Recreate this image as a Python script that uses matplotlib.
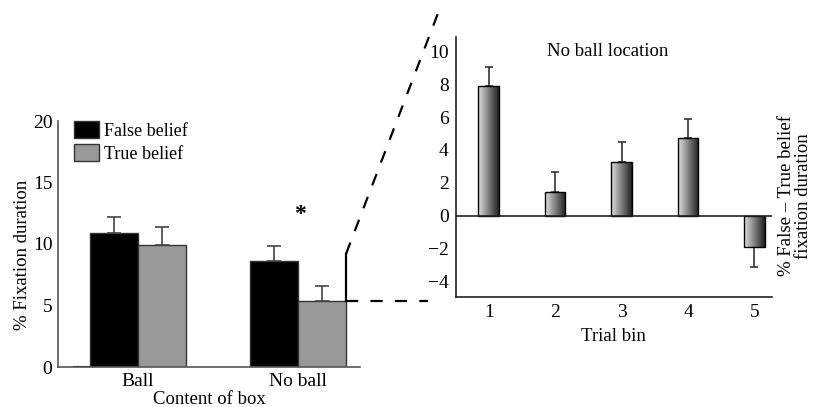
import numpy as np
import matplotlib
matplotlib.use("Agg")
import matplotlib.pyplot as plt
from matplotlib.lines import Line2D

plt.rcParams['font.family'] = ['Liberation Serif', 'DejaVu Serif']
plt.rcParams['font.size'] = 13

# left panel data
groups = ["Ball", "No ball"]
false_vals = [10.9, 8.65]
false_err = [1.3, 1.15]
true_vals = [9.95, 5.37]
true_err = [1.4, 1.25]

# right panel data
bins = [1, 2, 3, 4, 5]
diff_vals = [7.87, 1.46, 3.29, 4.72, -1.95]
diff_err = [1.18, 1.22, 1.18, 1.19, 1.2]

fig = plt.figure(figsize=(8.14, 4.07), dpi=100)

# ---- left chart
ax1 = fig.add_axes([58/814, 40/407, 302/814, 246/407])
x = np.arange(len(groups))
w = 0.3
ax1.bar(x - w/2, false_vals, w, color="black", edgecolor="#333333", lw=1,
        label="False belief")
ax1.bar(x + w/2, true_vals, w, color="#999999", edgecolor="#333333", lw=1,
        label="True belief")
ax1.errorbar(x - w/2, false_vals, yerr=[[0]*2, false_err], fmt="none",
             ecolor="#444444", elinewidth=1.2, capsize=5, capthick=1.2)
ax1.errorbar(x + w/2, true_vals, yerr=[[0]*2, true_err], fmt="none",
             ecolor="#444444", elinewidth=1.2, capsize=5, capthick=1.2)
ax1.plot([-0.4, -0.1], [0, 0], color="black", lw=1.5)
ax1.text(1.01, 12.4, "*", ha="center", va="center", fontsize=17, fontweight="bold")

ax1.set_xlim(-0.5, 1.3875)
ax1.set_ylim(0, 20)
ax1.set_yticks([0, 5, 10, 15, 20])
ax1.set_xticks(x)
ax1.set_xticklabels(groups)
ax1.tick_params(length=0, labelsize=14, pad=4)
for s in ["top", "right"]:
    ax1.spines[s].set_visible(False)
for s in ["left", "bottom"]:
    ax1.spines[s].set_color("#555555")
    ax1.spines[s].set_linewidth(1.2)
ax1.set_xlabel("Content of box", fontsize=13.5, labelpad=1)
ax1.set_ylabel("% Fixation duration", fontsize=13.5)
ax1.yaxis.set_label_coords(-0.09, 0.455)
leg = ax1.legend(loc="upper left", bbox_to_anchor=(0.03, 1.03), frameon=False,
                 fontsize=13, handlelength=1.35, handleheight=1.1,
                 handletextpad=0.3, labelspacing=0.25, borderaxespad=0)

# ---- right chart
ax2 = fig.add_axes([455.7/814, 110.3/407, 316/814, 260/407])
bw = 0.31
grad = np.linspace(0.88, 0.12, 256).reshape(1, -1)
bars = ax2.bar(bins, diff_vals, bw, color="none", edgecolor="black", lw=1, zorder=3)
for b in bars:
    bx, by = b.get_x(), b.get_y()
    bh = b.get_height()
    im = ax2.imshow(grad, cmap="gray", vmin=0, vmax=1, aspect="auto",
                    extent=[bx, bx + b.get_width(), by, by + bh], zorder=2)
    im.set_clip_path(b)
ax2.set_xlim(0.503, 5.26)
ax2.set_ylim(-4.95, 10.9)
up = [e if v >= 0 else 0 for v, e in zip(diff_vals, diff_err)]
dn = [e if v < 0 else 0 for v, e in zip(diff_vals, diff_err)]
ax2.errorbar(bins, diff_vals, yerr=[dn, up], fmt="none", ecolor="#333333",
             elinewidth=1.2, capsize=3, capthick=1.2, zorder=1)
ax2.axhline(0, color="#222222", lw=1.2, zorder=4)
ax2.set_yticks(range(-4, 11, 2))
ax2.set_yticklabels([str(v).replace("-", "\u2212") for v in range(-4, 11, 2)])
ax2.set_xticks(bins)
ax2.tick_params(length=0, labelsize=14, pad=5)
for s in ["top", "right"]:
    ax2.spines[s].set_visible(False)
for s in ["left", "bottom"]:
    ax2.spines[s].set_color("#222222")
    ax2.spines[s].set_linewidth(1.2)
ax2.set_xlabel("Trial bin", fontsize=13.5, labelpad=5)
ax2.text(0.48, 0.945, "No ball location", transform=ax2.transAxes,
         ha="center", va="center", fontsize=13.5)
fig.text(795/814, 1 - 196/407, "% False \u2013 True belief\nfixation duration",
         rotation=90, ha="center", va="center", fontsize=13.5, linespacing=1.05)

# ---- zoom connector lines
fig.canvas.draw()
inv = fig.transFigure.inverted()
px, py = ax1.transData.transform((1 + w, true_vals[1]))
p0 = inv.transform((px, py))
top = p0[1] + 47/407
fig.add_artist(Line2D([p0[0], 428/814], [p0[1], p0[1]], color="black", lw=1.6,
                      ls=(0, (5.5, 5.5)), transform=fig.transFigure))
fig.add_artist(Line2D([p0[0], p0[0]], [p0[1], top], color="black", lw=1.6,
                      transform=fig.transFigure))
fig.add_artist(Line2D([p0[0], 440/814], [top, 1 - 8/407], color="black", lw=1.6,
                      ls=(0, (5.5, 5.5)), transform=fig.transFigure))

fig.savefig("out.png", dpi=100)
